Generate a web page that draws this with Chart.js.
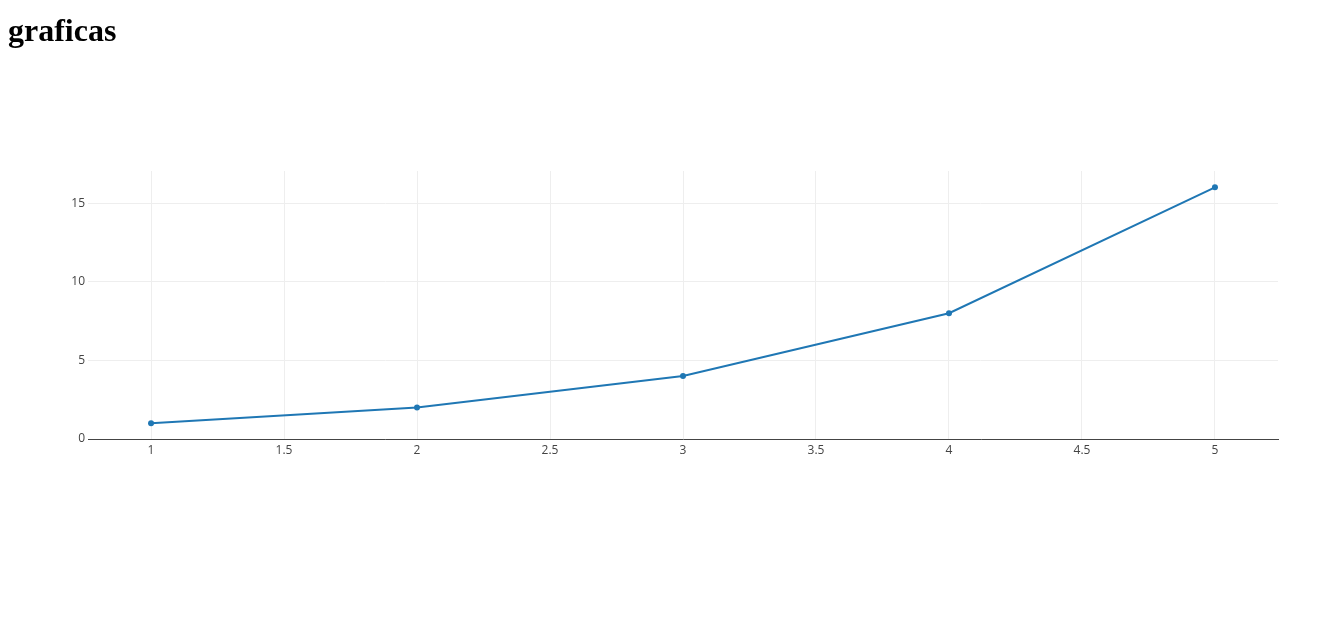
<!DOCTYPE html>
<html>
<head>
<meta charset="utf-8">
<title>graficas</title>
<script src="https://cdn.jsdelivr.net/npm/chart.js@4/dist/chart.umd.min.js"></script>
<style>
  body { margin: 8px; background: #fff; }
  h1 { position: relative; z-index: 2; margin: 4px 0; }
  #wrap { position: absolute; left: 0; top: 0; width: 1343px; height: 629px; }
</style>
</head>
<body>
<h1>graficas</h1>
<div id="wrap"><canvas id="chart" width="1343" height="629"></canvas></div>
<script>
// x = categories, y = values
var xValues = [1, 2, 3, 4, 5];
var yValues = [1, 2, 4, 8, 16];
var xTicks = [1, 1.5, 2, 2.5, 3, 3.5, 4, 4.5, 5];
var yTicks = [0, 5, 10, 15];

var points = xValues.map(function(x, i) { return {x: x, y: yValues[i]}; });

var tickFont = {family: "'Open Sans', sans-serif", size: 12};

var chart = new Chart(document.getElementById("chart"), {
    type: "line",
    data: {
        datasets: [{
            data: points,
            borderColor: "#1f77b4",
            backgroundColor: "#1f77b4",
            borderWidth: 2,
            pointRadius: 3,
            pointBorderWidth: 0,
            tension: 0,
            fill: false
        }]
    },
    options: {
        responsive: false,
        animation: false,
        layout: { padding: { top: 171, right: 65, bottom: 0, left: 0 } },
        plugins: { legend: { display: false }, tooltip: { enabled: false } },
        scales: {
            x: {
                type: "linear",
                min: 0.763,
                max: 5.237,
                afterBuildTicks: function(s) { s.ticks = xTicks.map(function(v) { return {value: v}; }); },
                afterFit: function(s) { s.height = 190; },
                grid: { color: "#eee", drawTicks: false },
                border: { color: "#444", width: 1 },
                ticks: { color: "#444", font: tickFont, padding: 4, maxRotation: 0,
                    callback: function(v) { return String(v); } }
            },
            y: {
                min: 0,
                max: 17.04,
                afterBuildTicks: function(s) { s.ticks = yTicks.map(function(v) { return {value: v}; }); },
                afterFit: function(s) { s.width = 88; },
                grid: { color: "#eee", drawTicks: false },
                border: { display: false },
                ticks: { color: "#444", font: tickFont, padding: 3,
                    callback: function(v) { return String(v); } }
            }
        }
    }
});
</script>
</body>
</html>
